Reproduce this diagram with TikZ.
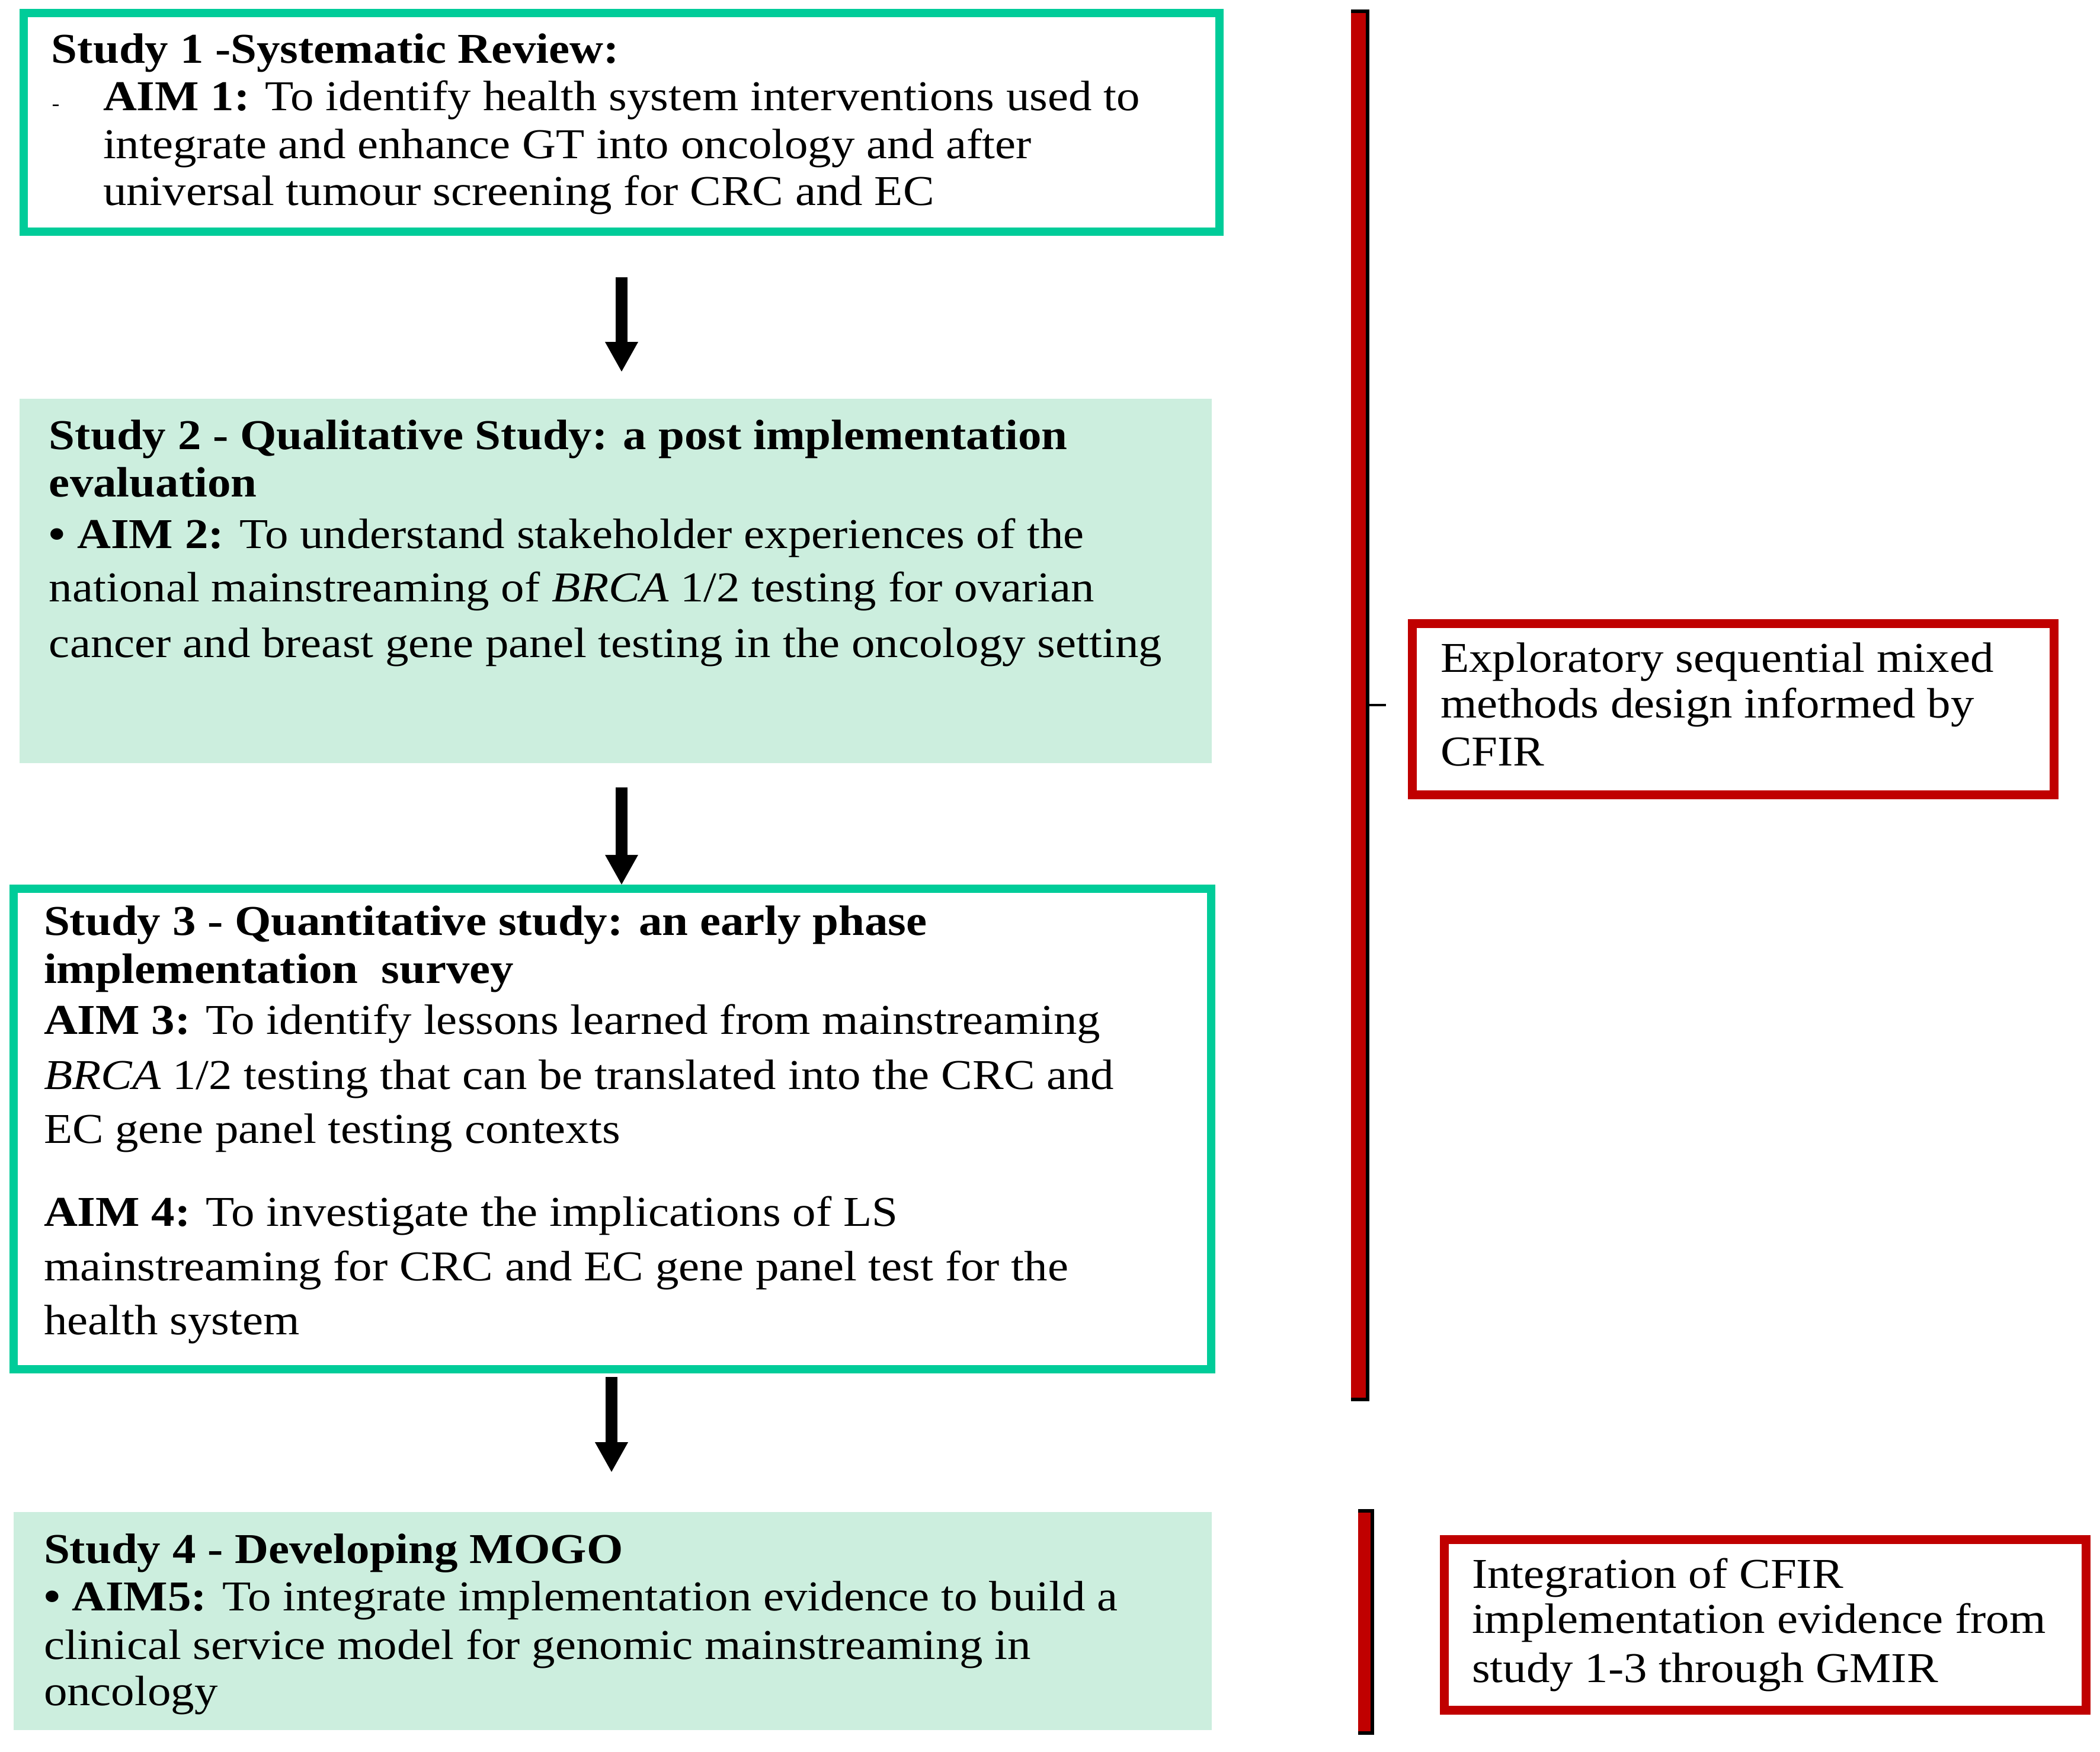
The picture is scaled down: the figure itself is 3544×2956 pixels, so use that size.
\documentclass[tikz,border=0pt]{standalone}
\usepackage{fontspec}
\setmainfont{Liberation Serif}[FakeStretch=1.1]
\usetikzlibrary{arrows.meta}
\definecolor{tealline}{RGB}{0,204,153}
\definecolor{mintfill}{RGB}{204,238,222}
\definecolor{redline}{RGB}{192,0,0}
\newcommand{\bodyfont}{\fontsize{20.4}{24}\selectfont}
\begin{document}
\begin{tikzpicture}[x=0.01cm,y=-0.01cm,
  tline/.style={anchor=base west, inner sep=0pt, outer sep=0pt, font=\bodyfont},
  tealbox/.style={draw=tealline, line width=0.14cm, fill=white, inner sep=0pt},
  mintbox/.style={fill=mintfill, inner sep=0pt},
  redbox/.style={draw=redline, line width=0.15cm, fill=white, inner sep=0pt},
  flowarrow/.style={line width=0.2cm, -{Triangle[width=0.56cm,length=0.5cm,line width=0pt]}},
  bracketfill/.style={fill=redline},
  bracketedge/.style={draw=black, line width=0.06cm},
]
\useasboundingbox (0,0) rectangle (3544,2956);

% boxes
\node[tealbox, minimum width=20.16cm, minimum height=3.69cm] (s1) at (1049,206.5) {};
\node[mintbox, minimum width=20.10cm, minimum height=6.15cm] (s2) at (1039,980.5) {};
\node[tealbox, minimum width=20.19cm, minimum height=8.11cm] (s3) at (1033.5,1905.5) {};
\node[mintbox, minimum width=20.20cm, minimum height=3.68cm] (s4) at (1034,2736) {};
\node[redbox, minimum width=10.82cm, minimum height=2.88cm] (r1) at (2925,1197) {};
\node[redbox, minimum width=10.82cm, minimum height=2.87cm] (r2) at (2979,2742.5) {};

% study 1
\node[tline] (s1a) at (87,106) {\textbf{Study 1 -Systematic Review:}};
\node[anchor=base, inner sep=0pt, font=\fontsize{10}{12}\selectfont] (s1dash) at (94,186) {-};
\node[tline] (s1b) at (174,186) {\textbf{AIM 1:} To identify health system interventions used to};
\node[tline] (s1c) at (174,267) {integrate and enhance GT into oncology and after};
\node[tline] (s1d) at (174,346) {universal tumour screening for CRC and EC};

% study 2
\node[tline] (s2a) at (83,758) {\textbf{Study 2 - Qualitative Study: a post implementation}};
\node[tline] (s2b) at (83,838) {\textbf{evaluation}};
\node[tline] (s2c) at (83,925) {\textbf{• AIM 2:} To understand stakeholder experiences of the};
\node[tline] (s2d) at (83,1015) {national mainstreaming of \textit{BRCA} 1/2 testing for ovarian};
\node[tline] (s2e) at (83,1109) {cancer and breast gene panel testing in the oncology setting};

% study 3
\node[tline] (s3a) at (74,1578) {\textbf{Study 3 - Quantitative study: an early phase}};
\node[tline] (s3b) at (74,1659) {\textbf{implementation\ \ survey}};
\node[tline] (s3c) at (74,1745) {\textbf{AIM 3:} To identify lessons learned from mainstreaming};
\node[tline] (s3d) at (74,1838) {\textit{BRCA} 1/2 testing that can be translated into the CRC and};
\node[tline] (s3e) at (74,1929) {EC gene panel testing contexts};
\node[tline] (s3f) at (74,2069) {\textbf{AIM 4:} To investigate the implications of LS};
\node[tline] (s3g) at (74,2161) {mainstreaming for CRC and EC gene panel test for the};
\node[tline] (s3h) at (74,2252) {health system};

% study 4
\node[tline] (s4a) at (74,2638) {\textbf{Study 4 - Developing MOGO}};
\node[tline] (s4b) at (74,2718) {\textbf{• AIM5:} To integrate implementation evidence to build a};
\node[tline] (s4c) at (74,2800) {clinical service model for genomic mainstreaming in};
\node[tline] (s4d) at (74,2878) {oncology};

% right boxes text
\node[tline] (r1a) at (2431,1134) {Exploratory sequential mixed};
\node[tline] (r1b) at (2431,1211) {methods design informed by};
\node[tline] (r1c) at (2431,1292) {CFIR};
\node[tline] (r2a) at (2484,2680) {Integration of CFIR};
\node[tline] (r2b) at (2484,2756) {implementation evidence from};
\node[tline] (r2c) at (2484,2839) {study 1-3 through GMIR};

% arrows
\coordinate (ax1) at (1049,0);
\coordinate (ax2) at (1049,0);
\coordinate (ax3) at (1032,0);
\draw[flowarrow, shorten <=0.7cm, shorten >=0.45cm] (s1.south -| ax1) -- (s2.north -| ax1);
\draw[flowarrow, shorten <=0.4cm, shorten >=0cm] (s2.south -| ax2) -- (s3.north -| ax2);
\draw[flowarrow, shorten <=0.06cm, shorten >=0.67cm] (s3.south -| ax3) -- (s4.north -| ax3);

% brackets
\fill[bracketfill] (2280,18) rectangle (2306,2364);
\draw[bracketedge] (2280,19) -- (2308,19) -- (2308,2362) -- (2280,2362);
\draw[draw=black, line width=0.04cm] (2308,1190) -- (2339,1190);
\fill[bracketfill] (2292,2549) rectangle (2314,2926);
\draw[bracketedge] (2292,2550) -- (2316,2550) -- (2316,2925) -- (2292,2925);
\end{tikzpicture}
\end{document}
